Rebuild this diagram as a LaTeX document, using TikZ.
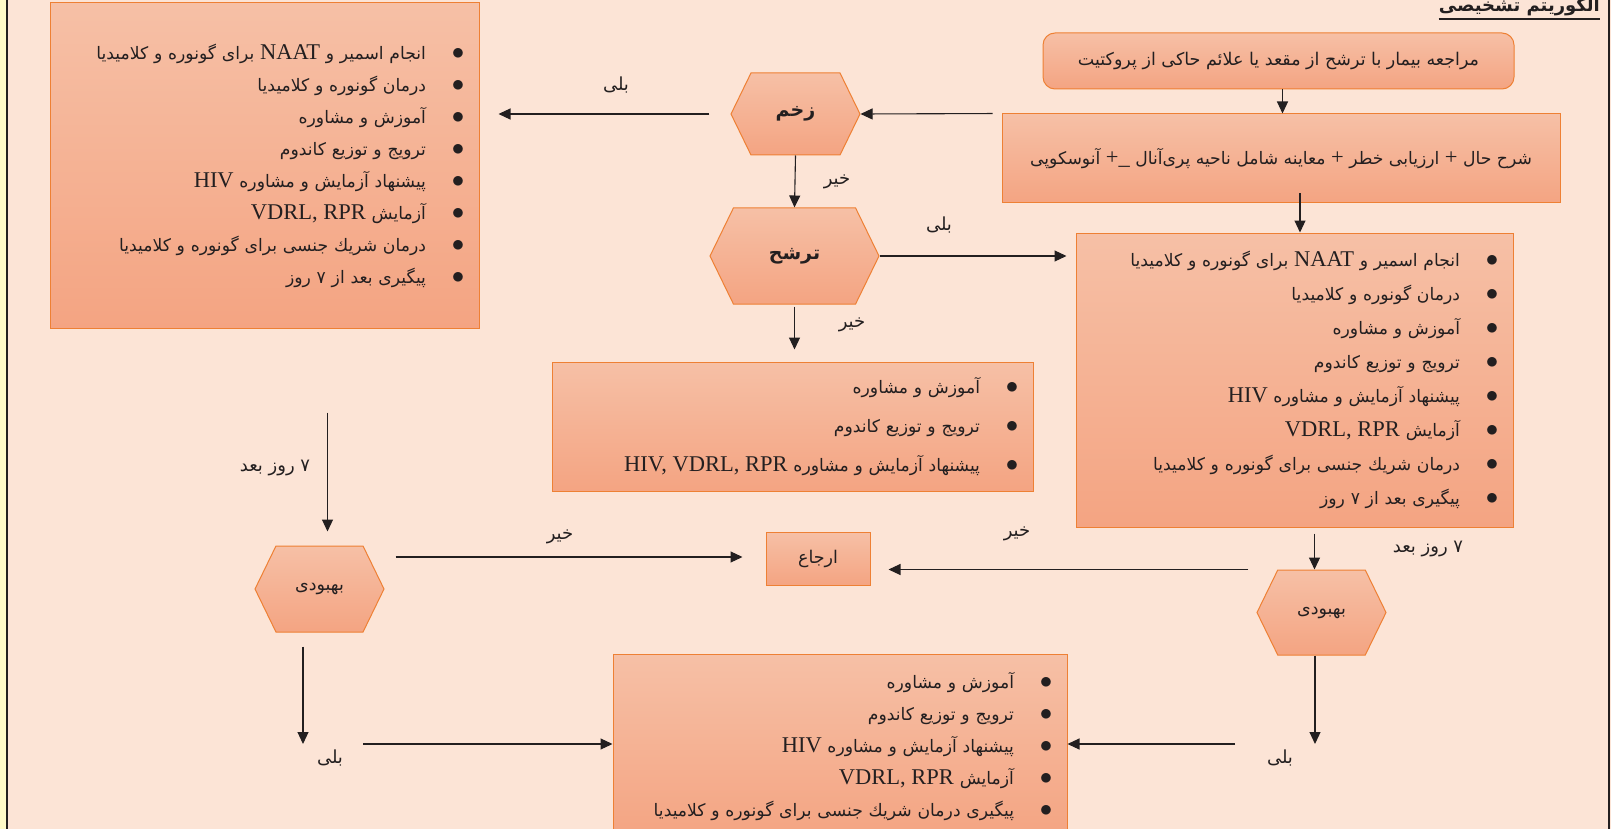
\documentclass[tikz,border=0pt]{standalone}
\usepackage{fontspec}
\setmainfont{Liberation Serif}
\newfontfamily\fafont[Script=Arabic]{DejaVu Sans}
\TeXXeTstate=1
\usetikzlibrary{positioning,shapes.symbols,arrows.meta}
\definecolor{pagebg}{RGB}{252,228,214}
\definecolor{sidebar}{RGB}{255,250,200}
\definecolor{boxtop}{RGB}{246,192,166}
\definecolor{boxbot}{RGB}{244,164,130}
\definecolor{boxline}{RGB}{238,128,52}
\definecolor{ink}{RGB}{35,31,32}
\newcommand{\fa}[1]{{\fafont\beginR #1\endR}}
\newcommand{\en}[1]{\beginL{\rmfamily\fontsize{22.5}{32}\selectfont #1}\endL}
\newcommand{\itm}[1]{\fa{\makebox[8pt]{\fontsize{24}{24}\selectfont$\bullet$}\hspace{28pt}#1}}
\tikzstyle{object}=[rectangle, draw=boxline, line width=1pt, top color=boxtop, bottom color=boxbot,
        text=ink, align=center, font=\fontsize{17.5}{20}\selectfont]
\tikzstyle{listbox}=[object, align=right, inner xsep=17pt]
\tikzstyle{hexa}=[object, signal, signal to=east and west, signal pointer angle=128, inner sep=0pt]
\tikzstyle{lbl}=[text=ink, font=\fontsize{18}{20}\selectfont]
\tikzstyle{arr}=[draw=ink, line width=1.1pt, -{Triangle[length=12pt,width=11pt]}]

\begin{document}
\begin{tikzpicture}[x=1pt, y=-1pt]
        \useasboundingbox (0,0) rectangle (1611,829);
        \fill[pagebg] (0,0) rectangle (1611,829);
        \fill[sidebar] (0,0) rectangle (6,829);
        \draw[ink, line width=2.5pt] (7,0) -- (7,829);
        \draw[ink, line width=2.5pt] (1609,0) -- (1609,829);

        \node (title) [anchor=base east, inner sep=0pt, text=ink, font=\fontsize{18}{24}\selectfont\bfseries] at (1600,12)
        {\fa{الگوریتم تشخیصی}};
        \draw[ink, line width=1.5pt] (title.west |- 0,19) -- (title.east |- 0,19);

        \node (start) [object, rounded corners=12pt, minimum width=471pt, minimum height=56pt] at (1278.5,61)
        {\fa{مراجعه بیمار با ترشح از مقعد یا علائم حاکی از پروکتیت}};
        \node (hist) [object, minimum width=558pt, minimum height=89pt, font=\fontsize{17.2}{20}\selectfont] at (1281,158.5)
        {\fa{شرح حال \en{+} ارزیابی خطر \en{+} معاینه شامل ناحیه پری‌آنال \en{+\_} آنوسکوپی}};
        \node (ulcer) [hexa, minimum width=129pt, minimum height=82pt, font=\fontsize{19}{20}\selectfont\bfseries] at (795.5,114)
        {\fa{زخم}};
        \node (disch) [hexa, minimum width=169pt, minimum height=96pt, font=\fontsize{19}{20}\selectfont\bfseries] at (794.5,256)
        {\fa{ترشح}};

        \node (treatL) [listbox, text width=395pt, minimum height=325pt, font=\fontsize{17.2}{32}\selectfont] at (264.5,165.5)
        {
          \itm{انجام اسمیر و \en{NAAT} برای گونوره و کلامیدیا}\\
          \itm{درمان گونوره و کلامیدیا}\\
          \itm{آموزش و مشاوره}\\
          \itm{ترویج و توزیع کاندوم}\\
          \itm{پیشنهاد آزمایش و مشاوره \en{HIV}}\\
          \itm{آزمایش \en{VDRL, RPR}}\\
          \itm{درمان شریك جنسی برای گونوره و کلامیدیا}\\
          \itm{پیگیری بعد از ۷ روز}
        };
        \node (treatA) [listbox, text width=403pt, minimum height=294pt, font=\fontsize{17.2}{34}\selectfont] at (1294.5,380)
        {
          \itm{انجام اسمیر و \en{NAAT} برای گونوره و کلامیدیا}\\
          \itm{درمان گونوره و کلامیدیا}\\
          \itm{آموزش و مشاوره}\\
          \itm{ترویج و توزیع کاندوم}\\
          \itm{پیشنهاد آزمایش و مشاوره \en{HIV}}\\
          \itm{آزمایش \en{VDRL, RPR}}\\
          \itm{درمان شریك جنسی برای گونوره و کلامیدیا}\\
          \itm{پیگیری بعد از ۷ روز}
        };
        \node (counsel) [listbox, text width=447pt, minimum height=129pt, font=\fontsize{17.2}{39}\selectfont] at (792.5,426.5)
        {
          \itm{آموزش و مشاوره}\\
          \itm{ترویج و توزیع کاندوم}\\
          \itm{پیشنهاد آزمایش و مشاوره \en{HIV, VDRL, RPR}}
        };

        \node (impL) [hexa, minimum width=129pt, minimum height=86pt] at (319.5,589) {\fa{بهبودی}};
        \node (impR) [hexa, minimum width=129pt, minimum height=85pt] at (1321.5,612.5) {\fa{بهبودی}};
        \node (refer) [object, minimum width=104pt, minimum height=53pt] at (818,558.5) {\fa{ارجاع}};
        \node (final) [listbox, text width=420pt, minimum height=185pt, font=\fontsize{17.2}{32}\selectfont] at (840,746.5)
        {
          \itm{آموزش و مشاوره}\\
          \itm{ترویج و توزیع کاندوم}\\
          \itm{پیشنهاد آزمایش و مشاوره \en{HIV}}\\
          \itm{آزمایش \en{VDRL, RPR}}\\
          \itm{پیگیری درمان شریك جنسی برای گونوره و کلامیدیا}
        };

        \coordinate (yesL) at (303,744);
        \coordinate (yesR) at (1315,744);

        \draw[arr] ([xshift=4pt]start.south) -- ([xshift=4pt]start.south |- hist.north);
        \draw[arr] ([xshift=19pt,yshift=10pt]hist.south) -- ([xshift=19pt]hist.south |- treatA.north);
        \draw[arr, shorten <=9pt] (hist.north west) -- (ulcer.east);
        \draw[arr, shorten <=21pt, shorten >=19pt] (ulcer.west) -- (ulcer.west -| treatL.east);
        \draw[arr] (ulcer.south) -- (disch.north);
        \draw[arr, shorten >=9pt] (disch.east) -- (disch.east -| treatA.west);
        \draw[arr, shorten <=2pt, shorten >=12pt] (disch.south) -- (disch.south |- counsel.north);
        \draw[arr, shorten <=84pt, shorten >=14pt] ([xshift=8pt]impL.north |- treatL.south) -- ([xshift=8pt]impL.north);
        \draw[arr, shorten <=11pt, shorten >=23pt] ([yshift=32pt]impL.east) -- ([yshift=32pt]impL.east -| refer.west);
        \draw[arr, shorten <=14pt] (yesL |- impL.south) -- (yesL);
        \draw[arr, shorten <=60pt] (yesL) -- (yesL -| final.west);
        \draw[arr, shorten <=6pt] ([xshift=-7pt]impR.north |- treatA.south) -- ([xshift=-7pt]impR.north);
        \draw[arr] (yesR |- impR.south) -- (yesR);
        \draw[arr, shorten <=80pt] (yesR) -- (yesR -| final.east);
        \draw[arr, shorten <=8pt, shorten >=18pt] (impR.west |- impR.north) -- (impR.north -| refer.east);

        \node (yes1) [lbl] at (616,85) {\fa{بلی}};
        \node (no1) [lbl] at (837,182) {\fa{خیر}};
        \node (yes2) [lbl] at (939,225) {\fa{بلی}};
        \node (no2) [lbl] at (852,325) {\fa{خیر}};
        \node (days1) [lbl] at (275,468) {\fa{۷ روز بعد}};
        \node (no3) [lbl] at (560,537) {\fa{خیر}};
        \node (no4) [lbl] at (1017,534) {\fa{خیر}};
        \node (days2) [lbl] at (1428,549) {\fa{۷ روز بعد}};
        \node (yes3) [lbl] at (330,758) {\fa{بلی}};
        \node (yes4) [lbl] at (1280,758) {\fa{بلی}};
\end{tikzpicture}
\end{document}
